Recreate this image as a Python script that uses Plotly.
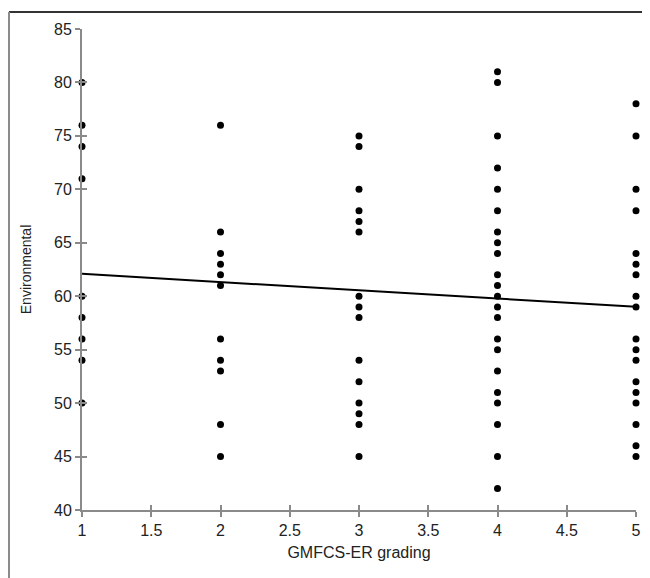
import numpy as np
import plotly.graph_objects as go

# GMFCS-ER grading groups and Environmental scores
grade_1 = [80, 76, 74, 71, 60, 58, 56, 54, 50]
grade_2 = [76, 66, 64, 63, 62, 61, 56, 54, 53, 48, 45]
grade_3 = [75, 74, 70, 68, 67, 66, 60, 59, 58, 54, 52, 50, 49, 48, 45]
grade_4 = [81, 80, 75, 72, 70, 68, 66, 65, 64, 62, 61, 60, 59, 58, 56, 55, 53, 51, 50, 48, 45, 42]
grade_5 = [78, 75, 70, 68, 64, 63, 62, 60, 59, 56, 55, 54, 52, 51, 50, 48, 46, 45]

groups = {1: grade_1, 2: grade_2, 3: grade_3, 4: grade_4, 5: grade_5}
x_vals = []
y_vals = []
for g, vals in groups.items():
    x_vals += [g] * len(vals)
    y_vals += vals

x_ticks = [1, 1.5, 2, 2.5, 3, 3.5, 4, 4.5, 5]
y_ticks = [40, 45, 50, 55, 60, 65, 70, 75, 80, 85]

slope, intercept = np.polyfit(x_vals, y_vals, 1)
line_x = [1, 5]
line_y = [intercept + slope * v for v in line_x]

font = "Liberation Sans, Arial, sans-serif"
axis_col = "#8a8a8a"

fig = go.Figure()
fig.add_trace(go.Scatter(x=line_x, y=line_y, mode="lines", cliponaxis=False,
                         line=dict(color="black", width=2), showlegend=False))
fig.add_trace(go.Scatter(x=x_vals, y=y_vals, mode="markers", cliponaxis=False,
                         marker=dict(color="black", size=7), showlegend=False))

common = dict(showgrid=False, zeroline=False, showline=True, linecolor=axis_col,
              linewidth=2, tickcolor=axis_col, tickwidth=2, ticklen=5)

fig.update_layout(
    width=650, height=578,
    paper_bgcolor="white", plot_bgcolor="white",
    margin=dict(l=74, r=22, t=21, b=76),
    font=dict(family=font, size=15, color="#222"),
    xaxis=dict(range=[1, 5], tickvals=x_ticks, ticktext=[str(v) for v in x_ticks],
               ticks="outside", tickfont=dict(size=16),
               title=dict(text="GMFCS-ER grading", standoff=9, font=dict(size=16)),
               **common),
    yaxis=dict(range=[40, 85], tickvals=y_ticks, ticks="outside", tickfont=dict(size=16),
               title=dict(text="Environmental", standoff=19, font=dict(size=14)), **common),
    xaxis2=dict(overlaying="x", matches="x", anchor="y", side="bottom",
                tickvals=x_ticks, ticks="inside", showticklabels=False, **common),
    yaxis2=dict(overlaying="y", matches="y", anchor="x", side="left",
                tickvals=y_ticks, ticks="inside", showticklabels=False, **common),
    shapes=[
        dict(type="line", xref="paper", yref="paper", x0=-0.1318, x1=1.05,
             y0=1.0353, y1=1.0353, line=dict(color="#333", width=2)),
        dict(type="line", xref="paper", yref="paper", x0=-0.1318, x1=-0.1318,
             y0=1.0353, y1=-0.2, line=dict(color=axis_col, width=2)),
    ],
)
fig.add_trace(go.Scatter(x=[None], y=[None], xaxis="x2", yaxis="y2", showlegend=False))

fig.write_html("out.html")
